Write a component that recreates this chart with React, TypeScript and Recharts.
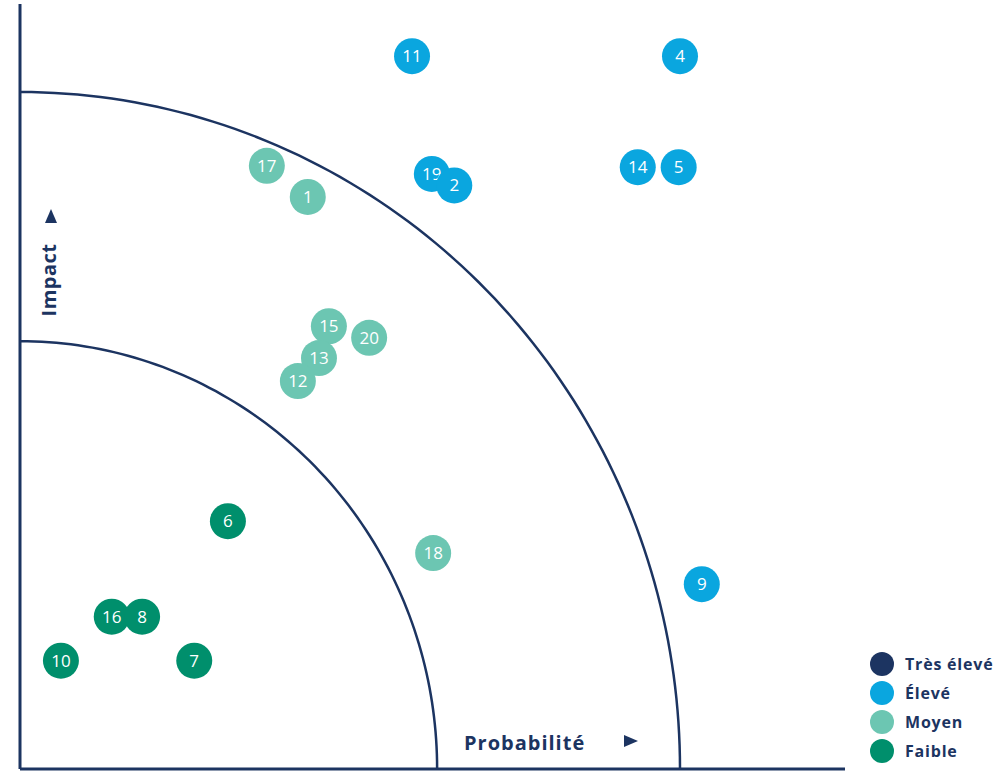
import { ScatterChart, Scatter, XAxis, YAxis, ReferenceLine } from "recharts";

const NAVY = "#1c3461";
const font = "'Open Sans', sans-serif";

const CATEGORIES = ["Très élevé", "Élevé", "Moyen", "Faible"];
const CAT_COLORS = ["#1c3461", "#0aa6df", "#6cc6b2", "#008f6c"];

// risk points: id, probability (x), impact (y)
const tresEleve: { id: number; x: number; y: number }[] = [];
const eleve = [
  { id: 11, x: 5.94, y: 10.53 },
  { id: 4, x: 10.0, y: 10.53 },
  { id: 19, x: 6.24, y: 8.79 },
  { id: 2, x: 6.58, y: 8.62 },
  { id: 14, x: 9.36, y: 8.89 },
  { id: 5, x: 9.98, y: 8.89 },
  { id: 9, x: 10.33, y: 2.73 },
];
const moyen = [
  { id: 17, x: 3.74, y: 8.91 },
  { id: 1, x: 4.36, y: 8.45 },
  { id: 15, x: 4.68, y: 6.54 },
  { id: 20, x: 5.29, y: 6.37 },
  { id: 13, x: 4.53, y: 6.07 },
  { id: 12, x: 4.21, y: 5.73 },
  { id: 18, x: 6.26, y: 3.19 },
];
const faible = [
  { id: 6, x: 3.15, y: 3.66 },
  { id: 16, x: 1.39, y: 2.25 },
  { id: 8, x: 1.85, y: 2.25 },
  { id: 10, x: 0.62, y: 1.6 },
  { id: 7, x: 2.64, y: 1.6 },
];
const SERIES = [tresEleve, eleve, moyen, faible];

// zone boundaries (radius in axis units)
const ZONE_RADII = [6.32, 10];

const arcPoints = (r: number) =>
  Array.from({ length: 91 }, (_, i) => {
    const a = (Math.PI / 2) * (1 - i / 90);
    return { x: r * Math.cos(a), y: r * Math.sin(a) };
  });

const Bubble = (color: string) => (props: any) => {
  const { cx, cy, payload } = props;
  return (
    <g>
      <circle cx={cx} cy={cy} r={18} fill={color} />
      <text
        x={cx}
        y={cy + 6}
        textAnchor="middle"
        fill="#fff"
        fontSize={17}
        fontFamily={font}
        fontWeight={400}
      >
        {payload.id}
      </text>
    </g>
  );
};

export default function App() {
  return (
    <div style={{ position: "absolute", left: 0, top: 0, width: 1007, height: 771, background: "#fff" }}>
      <ScatterChart width={1007} height={771} margin={{ top: 4, right: 162, bottom: 2, left: 20 }}>
        <XAxis type="number" dataKey="x" domain={[0, 12.5]} hide />
        <YAxis type="number" dataKey="y" domain={[0, 11.3]} hide />
        <ReferenceLine x={0} stroke={NAVY} strokeWidth={3} />
        <ReferenceLine y={0} stroke={NAVY} strokeWidth={3} />
        {ZONE_RADII.map((r) => (
          <Scatter
            key={r}
            data={arcPoints(r)}
            line={{ stroke: NAVY, strokeWidth: 2.5 }}
            shape={() => <g />}
            isAnimationActive={false}
          />
        ))}
        {SERIES.map((d, i) => (
          <Scatter
            key={CATEGORIES[i]}
            name={CATEGORIES[i]}
            data={d}
            fill={CAT_COLORS[i]}
            shape={Bubble(CAT_COLORS[i])}
            isAnimationActive={false}
          />
        ))}
      </ScatterChart>
      <svg
        width={1007}
        height={771}
        style={{ position: "absolute", left: 0, top: 0, pointerEvents: "none" }}
      >
        <text x={464} y={750} fill={NAVY} fontSize={20} fontWeight={700} fontFamily={font} letterSpacing={1}>
          Probabilité
        </text>
        <path d="M624,735 L638,741 L624,747 Z" fill={NAVY} />
        <text
          x={0}
          y={0}
          transform="translate(56,280) rotate(-90)"
          textAnchor="middle"
          fill={NAVY}
          fontSize={20}
          fontWeight={700}
          fontFamily={font}
          letterSpacing={0.5}
        >
          Impact
        </text>
        <path d="M45,223 L51,209 L57,223 Z" fill={NAVY} />
        {CATEGORIES.map((c, i) => (
          <g key={c}>
            <circle cx={882} cy={664 + i * 29} r={12} fill={CAT_COLORS[i]} />
            <text
              x={905}
              y={670 + i * 29}
              fill={NAVY}
              fontSize={16}
              fontWeight={700}
              fontFamily={font}
              letterSpacing={0.8}
            >
              {c}
            </text>
          </g>
        ))}
      </svg>
    </div>
  );
}
